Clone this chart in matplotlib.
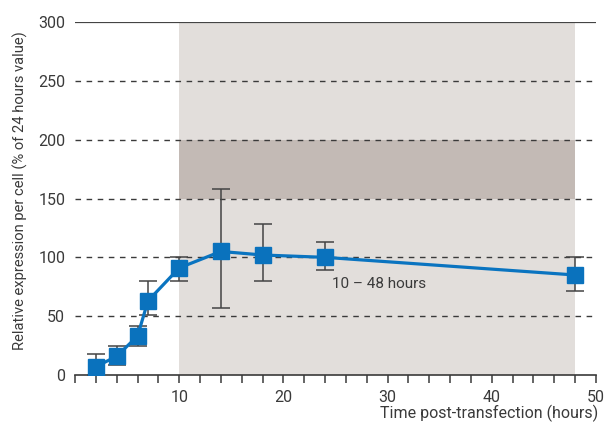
import matplotlib
matplotlib.use("Agg")
import matplotlib.pyplot as plt
import numpy as np

hours = [2, 4, 6, 7, 10, 14, 18, 24, 48]
expression = [7, 16, 33, 63, 91, 105, 102, 100, 85]
err_upper = [17.5, 24.5, 41.5, 80, 100, 158, 128, 113, 100]
err_lower = [0, 8.5, 25, 51, 80, 57, 80, 89.5, 71]
y_ticks = [0, 50, 100, 150, 200, 250, 300]
x_ticklabels = ["", "10", "20", "30", "40", "50"]
window = (10, 48)
band = (150, 200)
window_label = "10 – 48 hours"

plt.rcParams['font.family'] = ['Roboto', 'DejaVu Sans']
text_color = '#3a3a3a'

fig = plt.figure(figsize=(6.05, 4.25), dpi=100)
ax = fig.add_axes([0.124, 0.1176, 0.861, 0.8306])

ax.set_xlim(0, 50)
ax.set_ylim(0, 300)

ax.axvspan(window[0], window[1], ymin=0, ymax=1, color='#e2dedb', zorder=0, lw=0)
ax.fill_between(window, band[0], band[1], color='#c3bab5', zorder=0.5, lw=0)

for y in y_ticks[1:-1]:
    ax.axhline(y, color='#3a3a3a', lw=1.0, ls=(0, (4, 4)), zorder=1)
ax.axhline(300, color='#444444', lw=1.6, zorder=1)

ex = np.array(expression)
yerr = np.array([ex - np.array(err_lower), np.array(err_upper) - ex])
ax.errorbar(hours, expression, yerr=yerr, fmt='none', ecolor='#444444',
            elinewidth=1.1, capsize=6.8, capthick=1.1, zorder=3)
ax.plot(hours, expression, color='#0a74c0', lw=2.3, marker='s', markersize=11.5,
        markerfacecolor='#0a72bd', markeredgecolor='#0a72bd', zorder=4)

ax.text(29.2, 77, window_label, ha='center', va='center', fontsize=11, color=text_color, zorder=5)

for s in ['top', 'right', 'left']:
    ax.spines[s].set_visible(False)
ax.spines['bottom'].set_color('#3a3a3a')
ax.spines['bottom'].set_linewidth(1.2)

ax.set_xticks(np.arange(0, 51, 2), minor=True)
ax.set_xticks([0, 10, 20, 30, 40, 50])
ax.set_xticklabels(x_ticklabels)
ax.tick_params(axis='x', which='both', direction='out', length=6, width=1.1,
               color='#3a3a3a', labelsize=11.5, labelcolor=text_color, pad=5)
ax.set_yticks(y_ticks)
ax.tick_params(axis='y', length=0, labelsize=11.5, labelcolor=text_color, pad=7)

ax.set_ylabel("Relative expression per cell (% of 24 hours value)", fontsize=10.6,
              color=text_color)
ax.yaxis.set_label_coords(-0.091, 0.522)
ax.set_xlabel("Time post-transfection (hours)", fontsize=11.5, color=text_color)
ax.xaxis.set_label_coords(1.005, -0.085)
ax.xaxis.label.set_ha('right')

fig.savefig("out.png", dpi=100)
